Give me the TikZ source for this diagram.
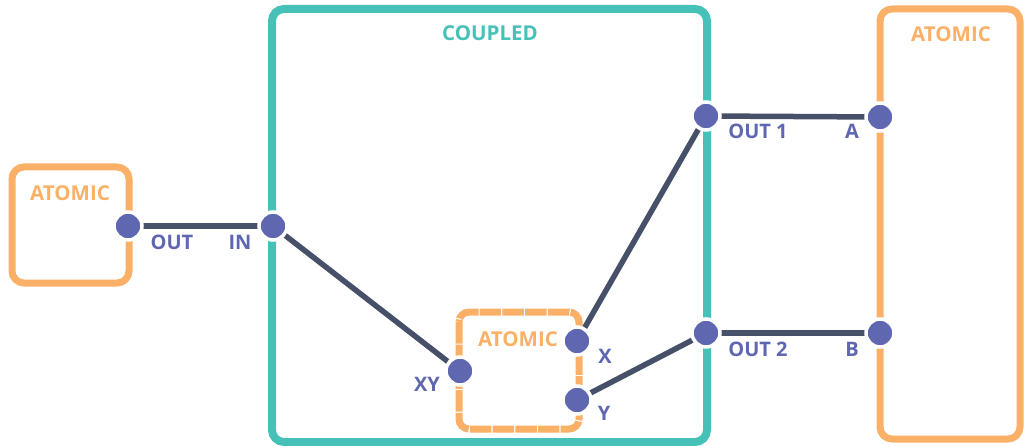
\documentclass[tikz,border=0pt]{standalone}
\usepackage{fontspec}
\setmainfont{Open Sans}[UprightFont=* Bold]
\definecolor{teal}{HTML}{45C1B8}
\definecolor{apricot}{HTML}{FBB068}
\definecolor{portblue}{HTML}{5F67B0}
\definecolor{wire}{HTML}{465069}
\begin{document}
\begin{tikzpicture}[x=1pt,y=-1pt,
  atomicbox/.style={draw=apricot,line width=7pt,rounded corners=12pt},
  coupledbox/.style={draw=teal,line width=8pt,rounded corners=12pt},
  innerbox/.style={draw=apricot,line width=7pt,rounded corners=10pt,dash pattern=on 21.5pt off 1.2pt},
  port/.style={circle,fill=portblue,draw=white,line width=3.5pt,minimum size=28pt,inner sep=0pt},
  link/.style={draw=wire,line width=5.5pt},
  boxtitle/.style={text=apricot,font=\fontsize{20.5}{20.5}\selectfont},
  portlabel/.style={text=portblue,font=\fontsize{20}{20}\selectfont}]
\useasboundingbox (0,0) rectangle (1027,446);

% boxes
\draw[atomicbox] (12,167) rectangle (129,283);
\draw[coupledbox] (272,9) rectangle (707,442);
\draw[atomicbox] (880,9) rectangle (1020,439);
\draw[innerbox] (459,312) rectangle (579,429);

% titles
\node[boxtitle] (t1) at (70,193) {ATOMIC};
\node[text=teal,font=\fontsize{20.5}{20.5}\selectfont] (t2) at (490,33) {COUPLED};
\node[boxtitle] (t3) at (951,34) {ATOMIC};
\node[boxtitle] (t4) at (518,339) {ATOMIC};

% port positions
\coordinate (pout) at (128,226);
\coordinate (pin) at (273,226);
\coordinate (pxy) at (460,371);
\coordinate (px) at (577,341);
\coordinate (py) at (577,400);
\coordinate (pout1) at (706,116);
\coordinate (pout2) at (706,333);
\coordinate (pa) at (880,117);
\coordinate (pb) at (880,333);

% connectors
\draw[link] (pout) -- (pin);
\draw[link] (pin) -- (pxy);
\draw[link] (px) -- (pout1);
\draw[link] (py) -- (pout2);
\draw[link] (pout1) -- (pa);
\draw[link] (pout2) -- (pb);

% ports
\foreach \p in {pout,pin,pxy,px,py,pout1,pout2,pa,pb}
  \node[port] (n\p) at (\p) {};

% port labels
\node[portlabel] (lout) at (172,242) {OUT};
\node[portlabel] (lin) at (240,242) {IN};
\node[portlabel] (lxy) at (427,384) {XY};
\node[portlabel] (lx) at (605,356) {X};
\node[portlabel] (ly) at (604,413) {Y};
\node[portlabel] (lout1) at (758,131) {OUT 1};
\node[portlabel] (la) at (852,131) {A};
\node[portlabel] (lout2) at (758,349) {OUT 2};
\node[portlabel] (lb) at (852,349) {B};
\end{tikzpicture}
\end{document}
